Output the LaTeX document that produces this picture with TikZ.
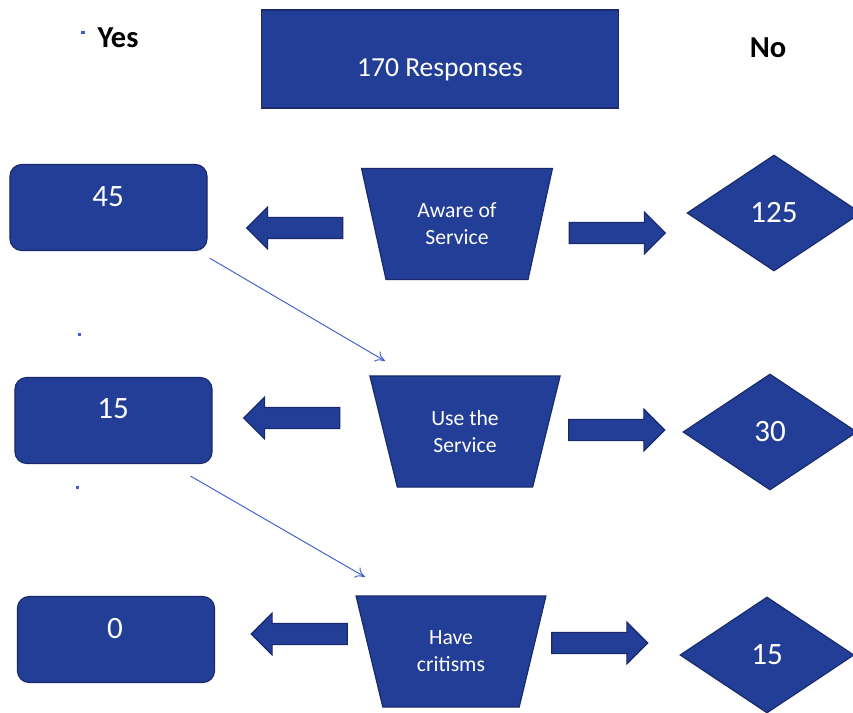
\documentclass[tikz,border=0pt]{standalone}
\usepackage{fontspec}
\setmainfont{Carlito}
\usepackage{xcolor}
\usepackage{tikz}
\usetikzlibrary{arrows.meta,shapes.geometric,shapes.arrows}
\definecolor{boxblue}{RGB}{35,62,150}
\definecolor{boxedge}{RGB}{24,42,108}
\definecolor{linkblue}{RGB}{58,92,205}

\begin{document}
\begin{tikzpicture}[
    x=0.03cm, y=-0.03cm,
    titlebox/.style={rectangle, draw=boxedge, fill=boxblue, line width=1pt, minimum width=10.71cm, minimum height=2.94cm},
    yesbox/.style={rectangle, rounded corners=10pt, draw=boxedge, fill=boxblue, line width=1pt, minimum width=5.91cm, minimum height=2.58cm},
    stagebox/.style={trapezium, trapezium angle=72, trapezium stretches=true, shape border rotate=180, draw=boxedge, fill=boxblue, line width=1pt, minimum width=5.73cm, minimum height=3.33cm, inner sep=0pt, align=center, text=white, font=\fontsize{18.5}{23}\selectfont},
    nobox/.style={diamond, draw=boxedge, fill=boxblue, line width=1pt, minimum width=5.22cm, minimum height=3.48cm, inner sep=0pt, text=white, font=\fontsize{26.5}{30}\selectfont},
    blockarrow/.style={single arrow, draw=boxedge, fill=boxblue, line width=1pt, minimum height=2.88cm, single arrow head extend=0.31cm, single arrow tip angle=90, inner xsep=0pt, inner ysep=0.3cm},
    count/.style={anchor=base, text=white, inner sep=0pt, font=\fontsize{26.5}{30}\selectfont},
    heading/.style={anchor=base, inner sep=0pt, font=\bfseries\fontsize{26}{30}\selectfont},
    link/.style={-{To[length=8pt,width=10pt]}, draw=linkblue, line width=0.8pt}
]
\useasboundingbox (0,0) rectangle (853,713);

% column headings
\node[heading] (yes) at (118,48) {Yes};
\node[heading] (no) at (768,58) {No};
\fill[linkblue] (81,31) rectangle (85,34);
\fill[linkblue] (78,333) rectangle (81,336);
\fill[linkblue] (76,486) rectangle (79,489);

% total
\node[titlebox] (total) at (440,59) {};
\node[count, font=\fontsize{23.5}{28}\selectfont] (totaltext) at (440,77) {170 Responses};

% row 1
\node[yesbox] (yes1) at (108.5,207.5) {};
\node[count] (yes1text) at (108,207) {45};
\node[blockarrow, shape border rotate=180] (left1) at (300,228) {};
\node[stagebox] (aware) at (457,224) {Aware of\\Service};
\node[blockarrow] (right1) at (612,233) {};
\node[nobox] (no1) at (774,213) {125};

% row 2
\node[yesbox] (yes2) at (113.5,420.5) {};
\node[count] (yes2text) at (113,418) {15};
\node[blockarrow, shape border rotate=180] (left2) at (297,418) {};
\node[stagebox] (use) at (465,431.5) {Use the\\Service};
\node[blockarrow] (right2) at (611.5,430) {};
\node[nobox] (no2) at (770,432) {30};

% row 3
\node[yesbox] (yes3) at (116,639.5) {};
\node[count] (yes3text) at (115,638) {0};
\node[blockarrow, shape border rotate=180] (left3) at (304.5,634) {};
\node[stagebox] (critic) at (451,651.5) {Have\\critisms};
\node[blockarrow] (right3) at (594.5,643) {};
\node[nobox] (no3) at (767,655) {15};

% links
\coordinate (into2) at (385,361);
\coordinate (into3) at (365,577);
\draw[link] ([shift={(2,7)}]yes1.south east) -- (into2);
\draw[link] ([shift={(-22,12)}]yes2.south east) -- (into3);
\end{tikzpicture}
\end{document}
